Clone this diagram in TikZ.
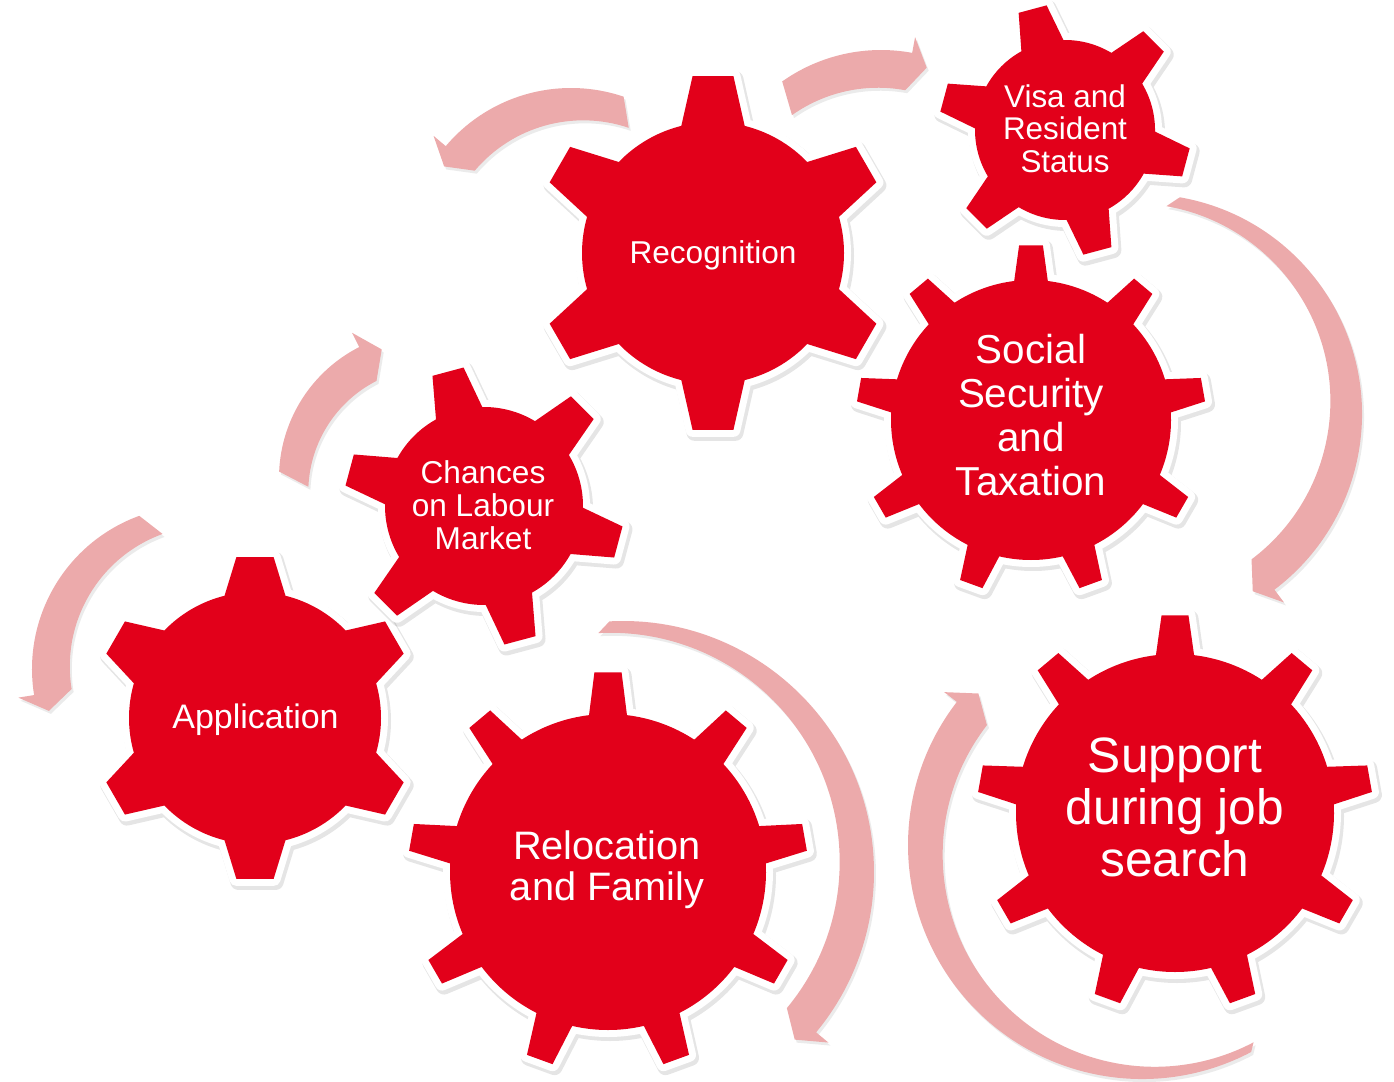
\documentclass[tikz,border=0pt]{standalone}
\usepackage{fontspec}
\setmainfont{Liberation Sans}
\definecolor{gearred}{RGB}{226,0,26}
\definecolor{arrowpink}{RGB}{236,170,171}
\tikzset{
  gearbody/.style={fill=gearred,
    preaction={draw=black, opacity=0.10, line width=16pt, line join=round, transform canvas={shift={(2pt,-3pt)}}},
    preaction={draw=white, line width=14pt, line join=round}},
  geartext/.style={text=white, inner sep=0pt, anchor=base},
  arrowband/.style={fill=arrowpink,
    preaction={fill=black, opacity=0.08, transform canvas={shift={(2pt,-3pt)}}}}
}
\newcommand\gtxt[3]{\fontsize{#1}{#2}\selectfont\begin{tabular}[t]{@{}c@{}}#3\end{tabular}}
% x, y, teeth, body r, tip R, base half angle, tip half angle, offset
\newcommand\gearat[8]{%
  \begin{scope}[shift={(#1,#2)}]
    \pgfmathsetmacro\gstep{360/#3}
    \pgfmathtruncatemacro\glast{#3-1}
    \path[gearbody] ({#8-#6}:#4pt)
      \foreach \k in {0,...,\glast} {
        -- ({#8+\k*\gstep-#7}:#5pt) -- ({#8+\k*\gstep+#7}:#5pt) -- ({#8+\k*\gstep+#6}:#4pt)
        arc[start angle={#8+\k*\gstep+#6}, end angle={#8+(\k+1)*\gstep-#6}, radius=#4pt]
      } -- cycle;
  \end{scope}}
% cx, cy, r, start, end, tip
\newcommand\circarrow[6]{%
  \begin{scope}[shift={(#1,#2)}]
    \pgfmathsetmacro\ao{#3+11}\pgfmathsetmacro\ai{#3-11}
    \pgfmathsetmacro\ho{#3+27}\pgfmathsetmacro\hi{#3-27}
    \path[arrowband] (#4:\ao pt) arc[start angle=#4, end angle=#5, radius=\ao pt]
      -- (#5:\ho pt) -- (#6:#3pt) -- (#5:\hi pt)
      arc[start angle=#5, end angle=#4, radius=\ai pt] -- cycle;
  \end{scope}}
\begin{document}
\begin{tikzpicture}[x=1pt, y=-1pt]
\useasboundingbox (0,0) rectangle (1394,1081);
% arrows
\circarrow{571}{252}{153}{71.3}{139.8}{146}
\circarrow{881}{221}{160}{125.3}{79.5}{73.4}
\circarrow{1142}{414}{209}{80.1}{-53}{-58}
\circarrow{426}{478}{136}{177.5}{117}{109}
\circarrow{195}{669}{152}{110}{189.2}{196}
\circarrow{623}{872}{240}{93.1}{-39.7}{-44.3}
\circarrow{1142}{845}{223}{-62.2}{-217.7}{-222.8}
% gears
\gearat{255}{718}{6}{126}{162}{14}{6.6}{30}
\gearat{484}{506}{6}{99}{140}{14}{6.6}{-15}
\gearat{713}{253}{6}{131}{178}{14}{6.6}{30}
\gearat{1065}{130}{6}{90}{126}{14}{6.6}{-15}
\gearat{1031}{420}{9}{140}{175}{6.9}{3.9}{90}
\gearat{608}{872}{9}{158}{200}{6.9}{3.9}{90}
\gearat{1175}{813}{9}{159}{198}{6.9}{3.9}{90}
% texts
\node[geartext] (application) at (255.5,728) {\gtxt{34}{36}{Application}};
\node[geartext] (chances) at (483,483) {\gtxt{31.6}{33}{Chances\\on Labour\\Market}};
\node[geartext] (recognition) at (713,263) {\gtxt{31.6}{33}{Recognition}};
\node[geartext] (visa) at (1065,107) {\gtxt{31.4}{32.5}{Visa and\\Resident\\Status}};
\node[geartext] (social) at (1031,363) {\gtxt{40.4}{44}{Social\\Security\\and\\Taxation}};
\node[geartext] (relocation) at (607,859) {\gtxt{39.7}{41.7}{Relocation\\and Family}};
\node[geartext] (support) at (1175,772) {\gtxt{49.7}{52}{Support\\during job\\search}};
\end{tikzpicture}
\end{document}
